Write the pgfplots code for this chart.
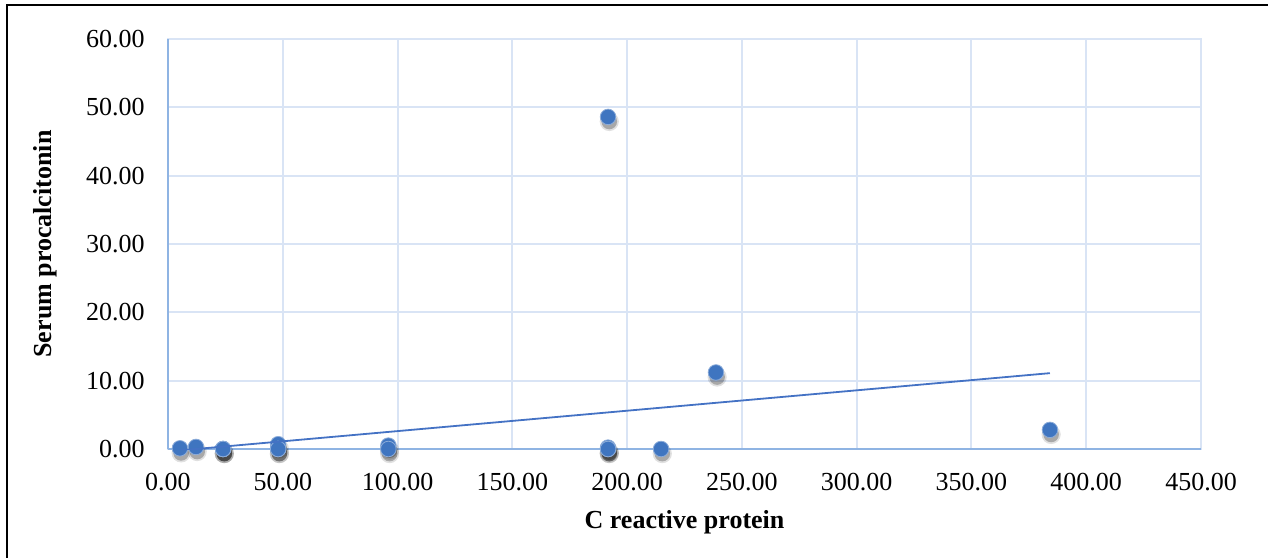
\documentclass[border=0pt]{standalone}
\usepackage{pgfplots}
\pgfplotsset{compat=1.18}
\usepackage{fontspec}
\setmainfont{Liberation Serif}

\definecolor{gridc}{RGB}{217,228,245}
\definecolor{axisc}{RGB}{143,180,227}
\definecolor{dotc}{RGB}{63,117,192}
\definecolor{trendc}{RGB}{68,114,196}

\pgfplotstableread{
x y
5.2 0.1
12.2 0.3
24 0
24 0
24 0
48 0.7
48 0
48 0
96 0.5
96 0
191.7 48.6
191.7 0.2
191.7 0
191.7 0
214.8 0
238.7 11.2
384.2 2.8
}\pctdata

\begin{document}
\begin{tikzpicture}
  \begin{axis}[
    at={(0,0)}, anchor=south west,
    scale only axis,
    width=516.5pt, height=205pt,
    xmin=0, xmax=450,
    ymin=0, ymax=60,
    xtick distance=50,
    ytick distance=10,
    grid=major,
    major grid style={draw=gridc, line width=1pt},
    axis line style={draw=gridc, line width=1pt},
    major tick length=0pt,
    clip mode=individual,
    tick label style={font=\fontsize{13}{15}\selectfont, inner sep=0pt},
    xticklabel style={anchor=north, yshift=-12pt},
    yticklabel style={anchor=east, xshift=-11.5pt},
    /pgf/number format/assume math mode=true,
    /pgf/number format/.cd, fixed, fixed zerofill, precision=2,
    /pgfplots/.cd,
    xlabel={C reactive protein},
    ylabel={Serum procalcitonin},
    label style={font=\fontsize{13}{15}\selectfont\bfseries},
    xlabel style={at={(rel axis cs:0.5,0)}, anchor=center, yshift=-36.5pt},
    ylabel style={at={(rel axis cs:0,0.5)}, anchor=center, yshift=61.5pt},
  ]
    \draw[axisc, line width=1pt] (axis cs:0,0) -- (axis cs:450,0);
    \draw[axisc, line width=1pt] (axis cs:0,0) -- (axis cs:0,60);

    % soft shadows
    \addplot[only marks, mark=*, mark size=4.8pt, draw opacity=0,
      mark options={draw opacity=0, fill=black, fill opacity=0.12, xshift=0.6pt, yshift=-2.3pt}]
      table {\pctdata};
    \addplot[only marks, mark=*, mark size=3.9pt, draw opacity=0,
      mark options={draw opacity=0, fill=black, fill opacity=0.25, xshift=0.6pt, yshift=-2.3pt}]
      table {\pctdata};
    % points
    \addplot[only marks, mark=*, mark size=3.9pt,
      mark options={draw=dotc!60!white, line width=0.4pt, fill=dotc}]
      table {\pctdata};
    % linear trendline
    \addplot[trendc, line width=0.9pt, no marks] coordinates {(5.2,-0.21) (384.2,11.1)};
  \end{axis}
  \draw[line width=0.8pt] (-80.5pt,-70pt) -- (-80.5pt,222pt) -- (570pt,222pt);
  \pgfresetboundingbox
  \useasboundingbox (-84pt,-54pt) rectangle (550pt,224.5pt);
\end{tikzpicture}
\end{document}
